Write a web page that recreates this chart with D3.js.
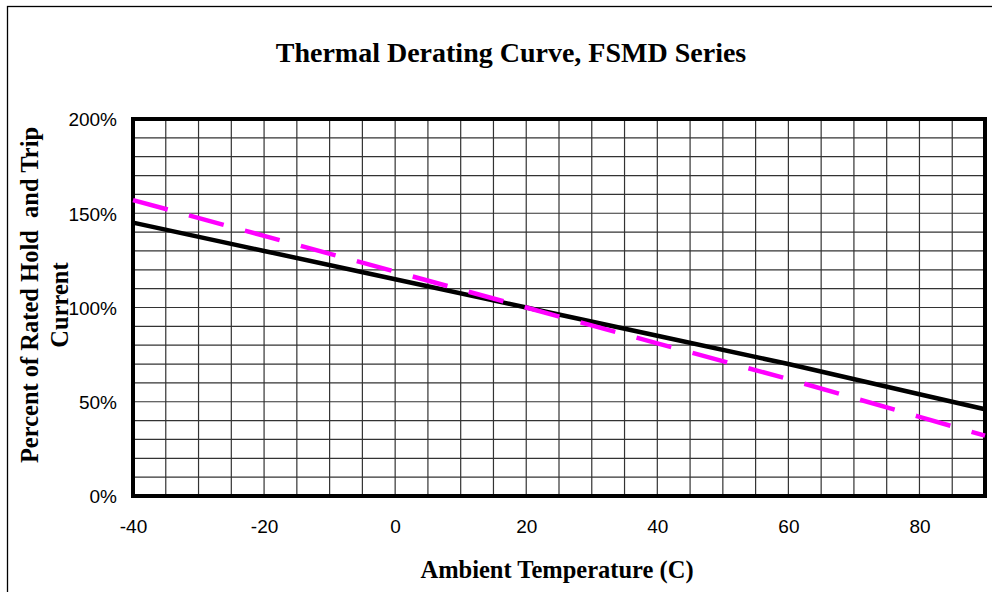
<!DOCTYPE html>
<html>
<head>
<meta charset="utf-8">
<script src="https://cdn.jsdelivr.net/npm/d3@7"></script>
<style>
  html, body { margin: 0; padding: 0; background: #fff; }
  svg { display: block; }
</style>
</head>
<body>
<script>
// ---- data ----
const temperatures = [-40, -20, 0, 20, 40, 60, 80, 90];
const holdTripPct = [145, 130, 115, 100, 85, 70, 54, 46];      // solid black
const tripPct     = [157, 138, 119, 100, 81, 62, 42, 32];      // dashed magenta
const xTickValues = [-40, -20, 0, 20, 40, 60, 80];
const yTickValues = [0, 50, 100, 150, 200];
const titleText = "Thermal Derating Curve, FSMD Series";
const xTitleText = "Ambient Temperature (C)";
const yTitleLines = ["Percent of Rated Hold  and Trip", "Current"];

const W = 992, H = 592;
const plot = { left: 133, right: 985, top: 119, bottom: 496 };

const svg = d3.select("body").append("svg").attr("width", W).attr("height", H);

// outer frame
svg.append("rect").attr("x", 7.5).attr("y", 6.5).attr("width", W + 10).attr("height", H + 10)
  .attr("fill", "none").attr("stroke", "#000").attr("stroke-width", 1.3);

const x = d3.scaleLinear().domain([-40, 90]).range([plot.left, plot.right]);
const y = d3.scaleLinear().domain([0, 200]).range([plot.bottom, plot.top]);

// gridlines
const g = svg.append("g");
g.selectAll("line.vg").data(d3.range(-35, 90, 5)).enter().append("line")
  .attr("x1", d => x(d)).attr("x2", d => x(d)).attr("y1", plot.top).attr("y2", plot.bottom)
  .attr("stroke", "#333").attr("stroke-width", 1.2);
g.selectAll("line.hg").data(d3.range(10, 200, 10)).enter().append("line")
  .attr("y1", d => y(d)).attr("y2", d => y(d)).attr("x1", plot.left).attr("x2", plot.right)
  .attr("stroke", "#333").attr("stroke-width", 1.2);

// plot border
svg.append("rect").attr("x", plot.left).attr("y", plot.top)
  .attr("width", plot.right - plot.left).attr("height", plot.bottom - plot.top)
  .attr("fill", "none").attr("stroke", "#000").attr("stroke-width", 4);

// lines
const line = vals => d3.line().x((d, i) => x(temperatures[i])).y(d => y(d))(vals);
svg.append("path").attr("d", line(holdTripPct)).attr("fill", "none")
  .attr("stroke", "#000").attr("stroke-width", 4.5);
svg.append("path").attr("d", line(tripPct)).attr("fill", "none")
  .attr("stroke", "#FF00FF").attr("stroke-width", 4.5).attr("stroke-dasharray", "36,22");

// axes
const sans = "'Liberation Sans', Arial, sans-serif";
const xAxis = d3.axisBottom(x).tickValues(xTickValues).tickSize(0).tickPadding(0).tickFormat(d => String(d));
const xa = svg.append("g").attr("transform", `translate(0,${plot.bottom})`).call(xAxis);
xa.select(".domain").remove();
xa.selectAll("text").attr("dy", null).attr("y", 37)
  .attr("font-family", sans).attr("font-size", 19).attr("fill", "#000");

const yAxis = d3.axisLeft(y).tickValues(yTickValues).tickSize(0).tickPadding(0).tickFormat(d => d + "%");
const ya = svg.append("g").attr("transform", `translate(${plot.left},0)`).call(yAxis);
ya.select(".domain").remove();
ya.selectAll("text").attr("x", -16).attr("dy", "0.36em")
  .attr("font-family", sans).attr("font-size", 19).attr("fill", "#000");

// titles
const serif = "'Liberation Serif', 'Times New Roman', serif";
svg.append("text").attr("x", 511).attr("y", 62).attr("text-anchor", "middle")
  .attr("font-family", serif).attr("font-weight", "bold").attr("font-size", 28).text(titleText);
svg.append("text").attr("x", 557).attr("y", 578).attr("text-anchor", "middle")
  .attr("font-family", serif).attr("font-weight", "bold").attr("font-size", 24.5).text(xTitleText);
const yCenters = [[38, 295], [68, 305]];
yTitleLines.forEach((t, i) => {
  svg.append("text")
    .attr("transform", `translate(${yCenters[i][0]},${yCenters[i][1]}) rotate(-90)`)
    .attr("text-anchor", "middle").attr("font-family", serif).attr("font-weight", "bold")
    .attr("font-size", 24.5).attr("xml:space", "preserve").style("white-space", "pre").text(t);
});
</script>
</body>
</html>
